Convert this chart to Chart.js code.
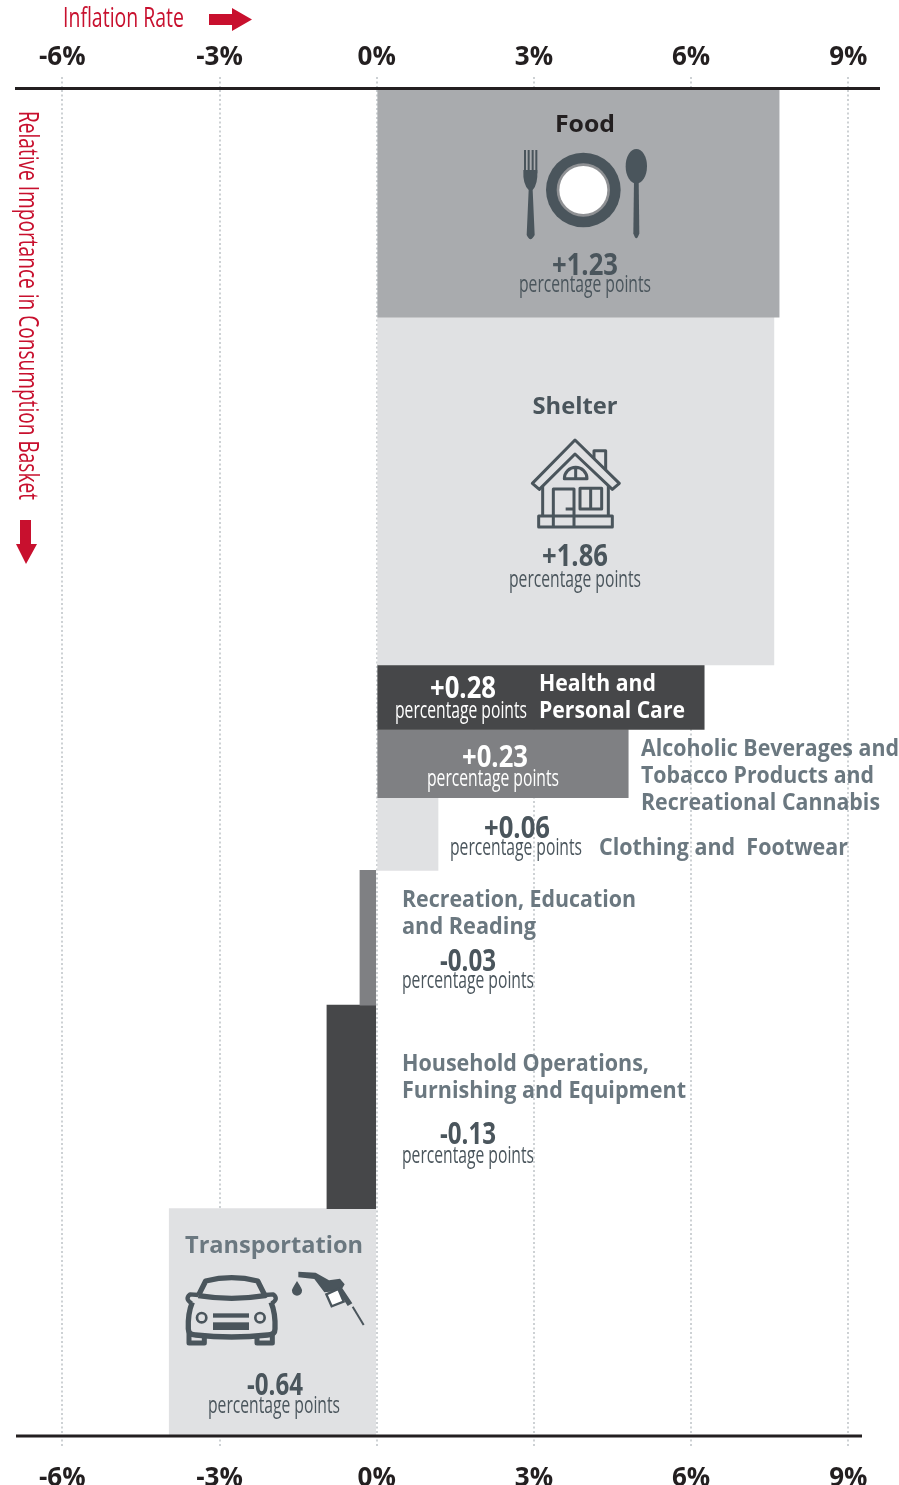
<!DOCTYPE html>
<html>
<head>
<meta charset="utf-8">
<title>Inflation Rate and Relative Importance</title>
<script src="https://cdn.jsdelivr.net/npm/chart.js@4/dist/chart.umd.min.js"></script>
<style>
  html, body { margin: 0; padding: 0; background: #fff; }
  canvas { display: block; }
</style>
</head>
<body>
<canvas id="basketChart" width="899" height="1485"></canvas>
<script>
  // Values
  const categories = ['Food', 'Shelter', 'Health and Personal Care',
    'Alcoholic Beverages and Tobacco Products and Recreational Cannabis',
    'Clothing and Footwear', 'Recreation, Education and Reading',
    'Household Operations, Furnishing and Equipment', 'Transportation'];
  const inflationRates = [7.68, 7.58, 6.25, 4.8, 1.17, -0.32, -0.95, -3.96];
  const basketWeights = [17.0, 25.8, 4.8, 5.05, 5.4, 10.0, 15.1, 16.8];
  const contributions = ['+1.23', '+1.86', '+0.28', '+0.23', '+0.06', '-0.03', '-0.13', '-0.64'];
  const barColors = ['#a9abae', '#e0e1e3', '#464749', '#7f8083', '#e0e1e3', '#7f8083', '#464749', '#e0e1e3'];
  const tickValues = [-6, -3, 0, 3, 6, 9];

  const RED = '#c8102e';
  const SLATE = '#4a555c';
  const GREY_LABEL = '#6b7880';
  const UNIT = 'percentage points';
  const PLOT_TOP = 88;
  const PLOT_BOTTOM = 1435;
  const totalWeight = basketWeights.reduce(function (a, b) { return a + b; }, 0);

  // Cumulative midpoints so each bar sits under the one before it
  let running = 0;
  const datasets = categories.map(function (name, i) {
    const mid = running + basketWeights[i] / 2;
    running += basketWeights[i];
    return {
      label: name,
      data: [{ x: [0, inflationRates[i]], y: mid }],
      backgroundColor: barColors[i],
      barThickness: basketWeights[i] * (PLOT_BOTTOM - PLOT_TOP) / totalWeight,
      grouped: false,
    };
  });

  // Text squeezed to a measured width, the original uses a condensed face
  function label(ctx, str, x, y, font, color, width, align) {
    ctx.save();
    ctx.font = font;
    ctx.fillStyle = color;
    ctx.textAlign = align || 'center';
    ctx.textBaseline = 'alphabetic';
    const natural = ctx.measureText(str).width;
    ctx.translate(x, y);
    ctx.scale(width / natural, 1);
    ctx.fillText(str, 0, 0);
    ctx.restore();
  }

  const BOLD = 'bold 24px "Open Sans"';
  const NUM = 'bold 30px "Open Sans"';
  const SMALL = '23px "Open Sans"';

  function value(ctx, i, x, y, color, width, align) {
    label(ctx, contributions[i], x, y + 1, NUM, color, width || 66, align);
  }
  function unit(ctx, x, y, color, align) {
    label(ctx, UNIT, x, y, SMALL, color, 132, align);
  }

  function poly(ctx, pts) {
    ctx.beginPath();
    pts.forEach(function (p, i) {
      if (i === 0) ctx.moveTo(p[0], p[1]);
      else ctx.lineTo(p[0], p[1]);
    });
    ctx.closePath();
  }

  function drawArrows(ctx) {
    ctx.fillStyle = RED;
    poly(ctx, [[209, 14], [232, 14], [232, 8], [252, 19.5], [232, 31], [232, 25], [209, 25]]);
    ctx.fill();
    poly(ctx, [[20, 520], [31, 520], [31, 544], [37, 544], [26, 564], [16, 544], [20, 544]]);
    ctx.fill();
  }

  function drawFoodIcon(ctx) {
    ctx.save();
    ctx.translate(500, 95);
    ctx.scale(1 / 3, 1 / 3);
    ctx.fillStyle = SLATE;
    // plate
    ctx.beginPath(); ctx.arc(250, 285, 112, 0, Math.PI * 2); ctx.fill();
    ctx.fillStyle = '#8f9194';
    ctx.beginPath(); ctx.arc(250, 285, 80, 0, Math.PI * 2); ctx.fill();
    ctx.fillStyle = '#fff';
    ctx.beginPath(); ctx.arc(250, 285, 72, 0, Math.PI * 2); ctx.fill();
    // fork
    ctx.fillStyle = SLATE;
    [72, 83, 95, 106].forEach(function (x) { ctx.fillRect(x, 165, 6, 70); });
    ctx.beginPath();
    ctx.moveTo(70, 225); ctx.lineTo(112, 225);
    ctx.quadraticCurveTo(114, 268, 98, 285);
    ctx.lineTo(104, 420); ctx.quadraticCurveTo(91, 445, 80, 420);
    ctx.lineTo(86, 285);
    ctx.quadraticCurveTo(68, 268, 70, 225);
    ctx.fill();
    // spoon
    ctx.beginPath(); ctx.ellipse(409, 214, 32, 52, 0, 0, Math.PI * 2); ctx.fill();
    ctx.beginPath();
    ctx.moveTo(402, 255); ctx.lineTo(416, 255); ctx.lineTo(418, 415);
    ctx.quadraticCurveTo(409, 445, 400, 415); ctx.closePath();
    ctx.fill();
    ctx.restore();
  }

  function drawHouseIcon(ctx) {
    ctx.save();
    ctx.translate(500, 390);
    ctx.scale(1 / 3, 1 / 3);
    ctx.strokeStyle = SLATE;
    ctx.lineWidth = 9;
    ctx.lineJoin = 'round';
    poly(ctx, [[225, 150], [97, 280], [118, 298], [225, 192], [337, 298], [358, 280]]);
    ctx.stroke();
    ctx.beginPath();
    ctx.moveTo(282, 205); ctx.lineTo(282, 182); ctx.lineTo(317, 182); ctx.lineTo(317, 240);
    // walls
    ctx.moveTo(128, 288); ctx.lineTo(128, 378);
    ctx.moveTo(325, 288); ctx.lineTo(325, 378);
    // door
    ctx.moveTo(160, 408); ctx.lineTo(160, 297); ctx.lineTo(222, 297); ctx.lineTo(222, 408);
    ctx.moveTo(197, 357); ctx.lineTo(222, 357);
    // window
    ctx.rect(240, 295, 65, 62);
    ctx.moveTo(272, 295); ctx.lineTo(272, 357);
    // attic window
    ctx.moveTo(193, 266); ctx.arc(227, 266, 34, Math.PI, 0); ctx.closePath();
    ctx.moveTo(227, 232); ctx.lineTo(227, 266);
    // step
    ctx.rect(116, 378, 221, 33);
    ctx.stroke();
    ctx.restore();
  }

  function drawCarIcon(ctx) {
    ctx.save();
    ctx.translate(165, 1205);
    ctx.scale(1 / 3, 1 / 3);
    ctx.strokeStyle = SLATE;
    ctx.fillStyle = SLATE;
    ctx.lineJoin = 'round';
    ctx.lineWidth = 16;
    ctx.beginPath();
    // cabin
    ctx.moveTo(100, 272); ctx.lineTo(122, 228);
    ctx.quadraticCurveTo(200, 208, 278, 228);
    ctx.lineTo(300, 272);
    ctx.quadraticCurveTo(200, 288, 100, 272);
    // body
    ctx.moveTo(82, 292);
    ctx.quadraticCurveTo(68, 325, 70, 372);
    ctx.quadraticCurveTo(70, 390, 92, 390);
    ctx.quadraticCurveTo(200, 402, 308, 390);
    ctx.quadraticCurveTo(330, 390, 330, 372);
    ctx.quadraticCurveTo(332, 325, 318, 292);
    ctx.stroke();
    // mirrors
    ctx.lineWidth = 13;
    ctx.beginPath();
    ctx.moveTo(100, 270); ctx.lineTo(75, 268); ctx.quadraticCurveTo(58, 282, 80, 295);
    ctx.moveTo(300, 270); ctx.lineTo(325, 268); ctx.quadraticCurveTo(342, 282, 320, 295);
    ctx.stroke();
    // wheels
    ctx.lineWidth = 15;
    ctx.beginPath();
    ctx.moveTo(72, 385); ctx.lineTo(72, 414); ctx.lineTo(118, 414); ctx.lineTo(118, 392);
    ctx.moveTo(276, 392); ctx.lineTo(276, 414); ctx.lineTo(322, 414); ctx.lineTo(322, 385);
    ctx.stroke();
    // headlights and grille
    ctx.lineWidth = 8;
    ctx.beginPath(); ctx.arc(110, 338, 14, 0, Math.PI * 2); ctx.stroke();
    ctx.beginPath(); ctx.arc(285, 338, 14, 0, Math.PI * 2); ctx.stroke();
    ctx.fillRect(144, 325, 108, 13);
    ctx.fillRect(144, 352, 108, 23);
    ctx.restore();
  }

  function drawPumpIcon(ctx) {
    ctx.save();
    ctx.translate(165, 1205);
    ctx.scale(1 / 3, 1 / 3);
    ctx.fillStyle = SLATE;
    ctx.strokeStyle = SLATE;
    // drop
    ctx.beginPath();
    ctx.moveTo(396, 228);
    ctx.quadraticCurveTo(378, 256, 381, 258);
    ctx.arc(396, 257, 15, Math.PI, 0, true);
    ctx.quadraticCurveTo(414, 256, 396, 228);
    ctx.fill();
    // nozzle spout and head
    poly(ctx, [[400, 200], [452, 203], [492, 226], [525, 221], [539, 238], [532, 250], [562, 295], [548, 303], [520, 258], [478, 262], [448, 222], [400, 217]]);
    ctx.fill();
    // trigger guard
    ctx.fillStyle = '#fff';
    ctx.lineWidth = 7;
    poly(ctx, [[484, 268], [520, 252], [536, 290], [500, 304]]);
    ctx.fill();
    ctx.stroke();
    // hose
    ctx.lineWidth = 6;
    ctx.beginPath(); ctx.moveTo(563, 305); ctx.lineTo(596, 360); ctx.stroke();
    ctx.restore();
  }

  function drawLabels(ctx) {
    // axis titles
    label(ctx, 'Inflation Rate', 63, 27, '27px "Open Sans"', RED, 121, 'left');
    ctx.save();
    ctx.translate(18.5, 111);
    ctx.rotate(Math.PI / 2);
    label(ctx, 'Relative Importance in Consumption Basket', 0, 0, '28px "Open Sans"', RED, 389, 'left');
    ctx.restore();

    // Food
    label(ctx, 'Food', 585, 132, BOLD, '#231f20', 60);
    value(ctx, 0, 585, 274, SLATE);
    unit(ctx, 585, 292, SLATE);
    // Shelter
    label(ctx, 'Shelter', 575, 414, BOLD, SLATE, 85);
    value(ctx, 1, 575, 565, SLATE);
    unit(ctx, 575, 587, SLATE);
    // Health
    value(ctx, 2, 463, 697, '#fff');
    unit(ctx, 461, 718, '#fff');
    label(ctx, 'Health and', 539, 691, BOLD, '#fff', 117, 'left');
    label(ctx, 'Personal Care', 539, 718, BOLD, '#fff', 146, 'left');
    // Alcohol
    value(ctx, 3, 495, 766, '#fff');
    unit(ctx, 493, 786, '#fff');
    label(ctx, 'Alcoholic Beverages and', 641, 756, BOLD, GREY_LABEL, 258, 'left');
    label(ctx, 'Tobacco Products and', 641, 783, BOLD, GREY_LABEL, 233, 'left');
    label(ctx, 'Recreational Cannabis', 641, 810, BOLD, GREY_LABEL, 239, 'left');
    // Clothing
    value(ctx, 4, 517, 837, SLATE);
    unit(ctx, 516, 855, SLATE);
    label(ctx, 'Clothing and  Footwear', 599, 855, BOLD, GREY_LABEL, 249, 'left');
    // Recreation
    label(ctx, 'Recreation, Education', 402, 907, BOLD, GREY_LABEL, 234, 'left');
    label(ctx, 'and Reading', 402, 934, BOLD, GREY_LABEL, 134, 'left');
    value(ctx, 5, 440, 970, SLATE, 56, 'left');
    unit(ctx, 402, 988, SLATE, 'left');
    // Household
    label(ctx, 'Household Operations,', 402, 1071, BOLD, GREY_LABEL, 247, 'left');
    label(ctx, 'Furnishing and Equipment', 402, 1098, BOLD, GREY_LABEL, 284, 'left');
    value(ctx, 6, 440, 1143, SLATE, 56, 'left');
    unit(ctx, 402, 1163, SLATE, 'left');
    // Transportation
    label(ctx, 'Transportation', 185, 1253, BOLD, GREY_LABEL, 178, 'left');
    value(ctx, 7, 275, 1394, SLATE, 56);
    unit(ctx, 274, 1413, SLATE);
  }

  const decorations = {
    id: 'decorations',
    afterDatasetsDraw: function (chart) {
      const ctx = chart.ctx;
      // bottom rule stops short of the top one
      ctx.save();
      ctx.strokeStyle = '#231f20';
      ctx.lineWidth = 3;
      ctx.beginPath();
      ctx.moveTo(16, PLOT_BOTTOM + 1);
      ctx.lineTo(862, PLOT_BOTTOM + 1);
      ctx.stroke();
      ctx.restore();
      drawArrows(ctx);
      drawFoodIcon(ctx);
      drawHouseIcon(ctx);
      drawCarIcon(ctx);
      drawPumpIcon(ctx);
      drawLabels(ctx);
    },
  };

  function pinTicks(scale) {
    scale.ticks = tickValues.map(function (v) { return { value: v }; });
  }

  const xRange = { min: -6.884, max: 9.586 };
  const dotted = { color: '#cdd1d4', lineWidth: 2, tickColor: '#cdd1d4', tickBorderDash: [2, 2.5], tickLength: 11 };

  new Chart(document.getElementById('basketChart'), {
    type: 'bar',
    data: { datasets: datasets },
    plugins: [decorations],
    options: {
      indexAxis: 'y',
      responsive: false,
      animation: false,
      layout: { padding: { left: 16, right: 20, top: 0, bottom: 0 } },
      plugins: { legend: { display: false }, tooltip: { enabled: false } },
      scales: {
        x: {
          type: 'linear',
          position: 'top',
          min: xRange.min,
          max: xRange.max,
          afterBuildTicks: pinTicks,
          afterFit: function (scale) { scale.height = PLOT_TOP; },
          grid: dotted,
          border: { display: true, color: '#231f20', width: 3, z: 1, dash: [2, 2.5] },
          ticks: {
            autoSkip: false,
            maxRotation: 0,
            padding: 4,
            color: '#231f20',
            font: { family: '"Open Sans"', size: 26, weight: 'bold' },
            callback: function (v) { return v + '%'; },
          },
        },
        xBottom: {
          type: 'linear',
          position: 'bottom',
          min: xRange.min,
          max: xRange.max,
          afterBuildTicks: pinTicks,
          afterFit: function (scale) { scale.height = 1485 - PLOT_BOTTOM; },
          grid: Object.assign({}, dotted, { drawOnChartArea: false }),
          border: { display: false },
          ticks: {
            autoSkip: false,
            maxRotation: 0,
            padding: 17,
            color: '#231f20',
            font: { family: '"Open Sans"', size: 26, weight: 'bold' },
            callback: function (v) { return v + '%'; },
          },
        },
        y: {
          type: 'linear',
          display: false,
          reverse: true,
          offset: false,
          min: 0,
          max: totalWeight,
        },
      },
    },
  });
</script>
</body>
</html>
